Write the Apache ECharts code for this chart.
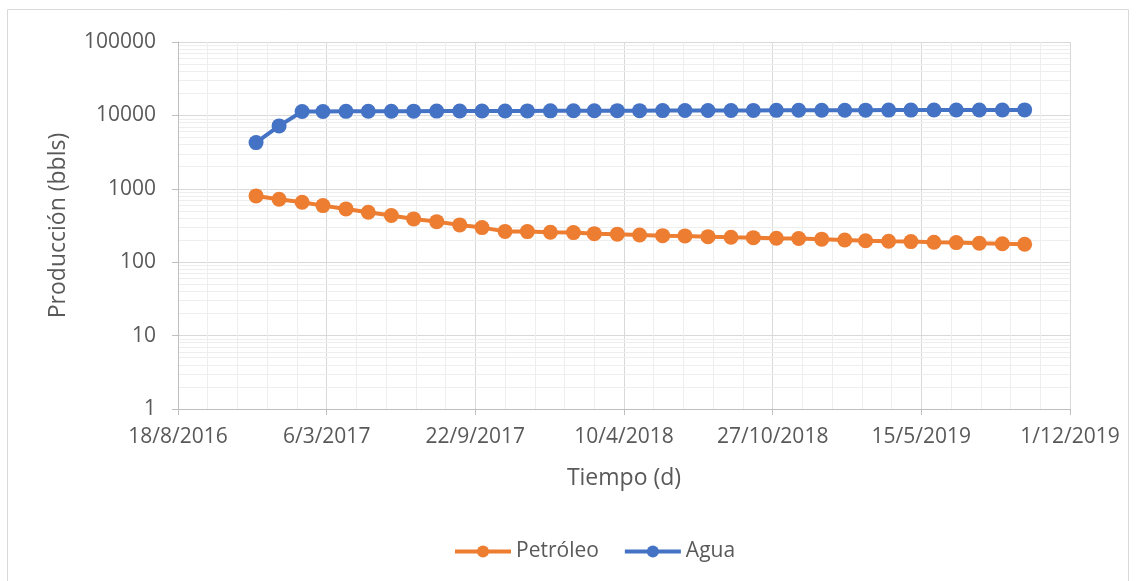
<!DOCTYPE html>
<html>
<head>
<meta charset="utf-8">
<script src="https://cdn.jsdelivr.net/npm/echarts@6/dist/echarts.min.js"></script>
<style>
  html, body { margin: 0; padding: 0; background: #fff; }
  #prodChart { width: 1138px; height: 581px; }
</style>
</head>
<body>
<div id="prodChart"></div>
<script>
// fechas mensuales (d/m/yyyy)
const fechas = [
  '1/12/2016', '1/1/2017', '1/2/2017', '1/3/2017', '1/4/2017', '1/5/2017',
  '1/6/2017', '1/7/2017', '1/8/2017', '1/9/2017', '1/10/2017', '1/11/2017',
  '1/12/2017', '1/1/2018', '1/2/2018', '1/3/2018', '1/4/2018', '1/5/2018',
  '1/6/2018', '1/7/2018', '1/8/2018', '1/9/2018', '1/10/2018', '1/11/2018',
  '1/12/2018', '1/1/2019', '1/2/2019', '1/3/2019', '1/4/2019', '1/5/2019',
  '1/6/2019', '1/7/2019', '1/8/2019', '1/9/2019', '1/10/2019'
];
const petroleo = [
  800, 722, 657, 590, 532, 480, 432, 389, 357, 322, 296, 263,
  261, 256, 253, 245, 241, 235, 230, 228, 223, 219, 216, 212,
  210, 206, 201, 196, 193, 191, 187, 185, 181, 178, 176
];
const agua = [
  4260, 7190, 11300, 11320, 11350, 11370, 11400, 11420, 11440, 11460, 11480, 11500,
  11520, 11540, 11560, 11580, 11600, 11610, 11630, 11650, 11670, 11680, 11700, 11720,
  11730, 11750, 11770, 11780, 11800, 11810, 11830, 11840, 11860, 11870, 11890
];
// eje x en dias serie de Excel: 18/8/2016 .. 1/12/2019 cada 200 dias
const xMin = 42600;
const xMax = 43800;
const xStep = 200;
const yTicks = [1, 10, 100, 1000, 10000, 100000];

const txt = '#595959';
const font = 'Open Sans';
const dayMs = 86400000;
const excelZero = Date.UTC(1899, 11, 30);

const toSerial = s => {
  const [d, m, y] = s.split('/').map(Number);
  return Math.round((Date.UTC(y, m - 1, d) - excelZero) / dayMs);
};
const fmtDate = v => {
  const dt = new Date(excelZero + v * dayMs);
  return dt.getUTCDate() + '/' + (dt.getUTCMonth() + 1) + '/' + dt.getUTCFullYear();
};

const xs = fechas.map(toSerial);

// lineas menores del eje log (2..9 de cada decada)
const minorLines = [];
for (let i = 0; i < yTicks.length - 1; i++) {
  for (let k = 2; k <= 9; k++) minorLines.push({ yAxis: yTicks[i] * k });
}

const option = {
  animation: false,
  backgroundColor: '#fff',
  graphic: [{
    type: 'rect',
    shape: { x: 7.5, y: 9.5, width: 1121, height: 590 },
    style: { fill: 'none', stroke: '#D9D9D9', lineWidth: 1 },
    silent: true
  }],
  grid: { left: 178, right: 68, top: 42, bottom: 172 },
  legend: {
    left: 448,
    top: 536,
    itemWidth: 56,
    itemHeight: 15,
    itemGap: 24,
    itemStyle: { borderWidth: 0 },
    lineStyle: { width: 4 },
    textStyle: { color: txt, fontFamily: font, fontSize: 21 },
    data: ['Petróleo', 'Agua']
  },
  xAxis: {
    type: 'value',
    min: xMin,
    max: xMax,
    interval: xStep,
    name: 'Tiempo (d)',
    nameLocation: 'middle',
    nameGap: 58,
    nameTextStyle: { color: txt, fontFamily: font, fontSize: 23 },
    axisLine: { lineStyle: { color: '#BFBFBF', width: 1 } },
    axisTick: { show: true, length: 6, lineStyle: { color: '#BFBFBF' } },
    axisLabel: { color: txt, fontFamily: font, fontSize: 21, margin: 18, formatter: fmtDate },
    splitLine: { show: true, lineStyle: { color: '#D9D9D9' } },
    minorTick: { show: false, splitNumber: 5 },
    minorSplitLine: { show: true, lineStyle: { color: '#EEEEEE' } }
  },
  yAxis: {
    type: 'log',
    logBase: 10,
    min: 1,
    max: 100000,
    name: 'Producción (bbls)',
    nameLocation: 'middle',
    nameGap: 108,
    nameTextStyle: { color: txt, fontFamily: font, fontSize: 23 },
    axisLine: { show: true, lineStyle: { color: '#BFBFBF', width: 1 } },
    axisTick: { show: true, length: 6, lineStyle: { color: '#BFBFBF' } },
    axisLabel: { color: txt, fontFamily: font, fontSize: 21, margin: 22, formatter: v => String(Math.round(v)) },
    splitLine: { show: true, lineStyle: { color: '#D9D9D9' } }
  },
  series: [
    {
      name: 'grid-minor',
      type: 'line',
      data: [],
      z: 0,
      silent: true,
      markLine: {
        z: 0,
        silent: true,
        animation: false,
        symbol: ['none', 'none'],
        label: { show: false },
        lineStyle: { color: '#EEEEEE', width: 1, type: 'solid' },
        emphasis: { disabled: true },
        data: minorLines
      }
    },
    {
      name: 'Petróleo',
      type: 'line',
      z: 3,
      symbol: 'circle',
      symbolSize: 15,
      color: '#ED7D31',
      itemStyle: { borderWidth: 0 },
      lineStyle: { width: 4 },
      data: xs.map((x, i) => [x, petroleo[i]])
    },
    {
      name: 'Agua',
      type: 'line',
      z: 3,
      symbol: 'circle',
      symbolSize: 15,
      color: '#4472C4',
      itemStyle: { borderWidth: 0 },
      lineStyle: { width: 4 },
      data: xs.map((x, i) => [x, agua[i]])
    }
  ]
};

const myChart = echarts.init(document.getElementById('prodChart'));
myChart.setOption(option);
</script>
</body>
</html>
